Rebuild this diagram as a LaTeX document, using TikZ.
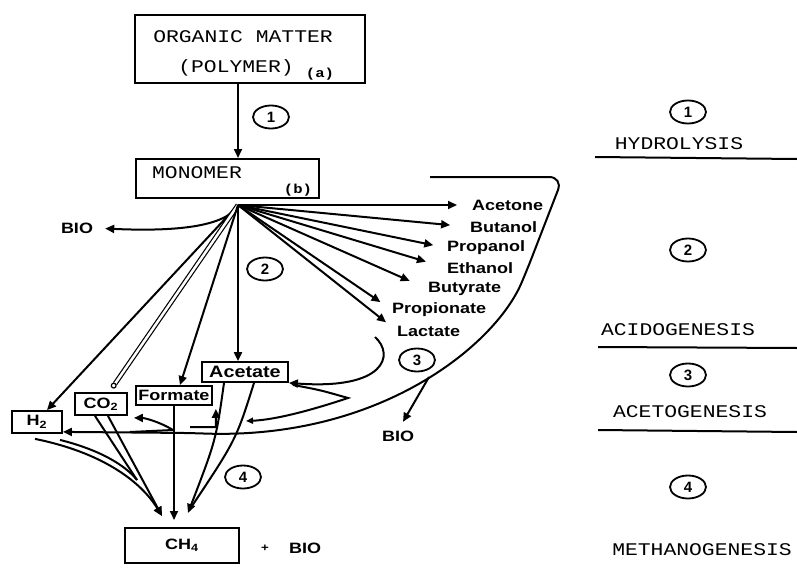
\documentclass[tikz,border=0pt]{standalone}
\usepackage{fontspec}
\setmainfont{Liberation Sans}
\newfontfamily\typew[FakeStretch=1.2]{Liberation Mono}
\newfontfamily\labfont[FakeStretch=1.2]{Liberation Sans}
\usetikzlibrary{arrows.meta, shapes.geometric}

\begin{document}
\begin{tikzpicture}[x=1pt, y=-1pt,
    box/.style={rectangle, draw, line width=2pt, inner sep=0pt},
    chem/.style={rectangle, draw, line width=1.8pt, inner sep=1.5pt, font=\labfont\bfseries\fontsize{15}{16}\selectfont},
    lab/.style={inner sep=0pt, font=\labfont\bfseries\fontsize{15}{16}\selectfont},
    stage/.style={inner sep=0pt, font=\typew\fontsize{17.8}{20}\selectfont},
    tag/.style={inner sep=0pt, font=\typew\bfseries\fontsize{13}{13}\selectfont},
    num/.style={ellipse, draw, line width=1.8pt, minimum width=36pt, minimum height=23pt, inner sep=0pt, font=\bfseries\fontsize{15}{15}\selectfont},
    ln/.style={line width=2pt},
    arr/.style={line width=2pt, -{Triangle[length=9pt, width=8pt]}},
    dbl/.style={line width=1.2pt, double, double distance=2.5pt, -{Circle[open, length=6pt]}}
]
\useasboundingbox (0,0) rectangle (797,567);

% polymer and monomer
\node[box, minimum width=230pt, minimum height=68pt] (organic) at (250,49) {};
\node[stage] (organictxt) at (243,37) {ORGANIC MATTER};
\node[stage] (polymertxt) at (236,68) {(POLYMER)};
\node[tag] (atag) at (320,74) {(a)};
\node[box, minimum width=183pt, minimum height=39pt] (monomer) at (227.5,178.5) {};
\node[stage] (monomertxt) at (197,173) {MONOMER};
\node[tag] (btag) at (298,190) {(b)};
\coordinate (hub) at (238,205);
\draw[arr] (hub |- organic.south) -- (hub |- monomer.north);

% step numbers
\node[num] (s1) at (271,117) {1};
\node[num] (s2) at (265,269) {2};
\node[num] (s3) at (417,360) {3};
\node[num] (s4) at (243,477) {4};

% stages on the right
\node[num] (r1) at (688,112) {1};
\node[stage] (hydro) at (679,144) {HYDROLYSIS};
\draw[ln] (595,157) -- (797,159);
\node[num] (r2) at (688,250) {2};
\node[stage] (acido) at (678,330) {ACIDOGENESIS};
\draw[ln] (598,347) -- (797,348);
\node[num] (r3) at (688,375) {3};
\node[stage] (aceto) at (690,412) {ACETOGENESIS};
\draw[ln] (598,430) -- (797,432);
\node[num] (r4) at (688,487) {4};
\node[stage] (methano) at (702,550) {METHANOGENESIS};

% acidogenesis products
\node[lab, anchor=west] (acetone) at (472,205) {Acetone};
\node[lab, anchor=west] (butanol) at (470,227) {Butanol};
\node[lab, anchor=west] (propanol) at (447,248) {Propanol};
\node[lab, anchor=west] (ethanol) at (447,268) {Ethanol};
\node[lab, anchor=west] (butyrate) at (428,289) {Butyrate};
\node[lab, anchor=west] (propionate) at (392,310) {Propionate};
\node[lab, anchor=west] (lactate) at (397,331) {Lactate};
\foreach \n/\s in {acetone/15, butanol/20, propanol/14, ethanol/22, butyrate/20, propionate/14, lactate/14}
    \draw[arr, shorten >=\s pt] (hub) -- (\n.west);

\node[lab] (bioL) at (77,228) {BIO};
\draw[arr, shorten >=12pt] (hub) .. controls (225,230) and (160,231) .. (bioL.east);

\node[chem, minimum width=50pt, minimum height=22pt] (h2) at (37,422) {H\textsubscript{2}};
\node[chem, minimum width=52pt, minimum height=22pt] (co2) at (101,404) {CO\textsubscript{2}};
\node[chem, minimum width=76pt, minimum height=19pt] (formate) at (174,395.5) {Formate};
\node[chem, minimum width=86pt, minimum height=20pt, font=\labfont\bfseries\fontsize{16.5}{18}\selectfont] (acetate) at (245,372) {Acetate};

\draw[arr] (hub) -- ([xshift=10pt]h2.north);
\draw[dbl] (hub) -- ([xshift=11pt, yshift=4pt]co2.north);
\draw[arr] (hub) -- ([xshift=6pt]formate.north);
\draw[arr] (hub) -- (hub |- acetate.north);

% acetogenesis
\coordinate (lacend) at (375,337);
\draw[arr] (lacend) .. controls (395,355) and (385,390) .. (acetate.south east);
\coordinate (wedgeA) at (348,398);
\coordinate (tipA) at (246,421);
\draw[ln, -{Triangle[open, length=7pt, width=6pt]}] ([xshift=4pt, yshift=-2pt]acetate.south east) .. controls (320,390) .. (wedgeA) .. controls (300,414) and (270,420) .. (tipA);
\coordinate (loopstart) at (430,177);
\draw[arr, rounded corners=14pt] (loopstart) -- (563,177) -- (527,270) .. controls (495,345) and (380,440) .. (190,433) -- ([yshift=2pt]h2.south east);
\node[lab] (bioR) at (398,436) {BIO};
\coordinate (branch) at (429,377);
\draw[arr, shorten >=10pt] (branch) -- (bioR.north);
\coordinate (wedgeB) at (173,430);
\draw[arr] (wedgeB) .. controls (160,422) and (145,418) .. ([xshift=6pt, yshift=-2pt]co2.south east);
\draw[ln] (wedgeB) -- (130,432);
\coordinate (formL) at (190,427);
\draw[arr] (formL) -- (216,427) -- ([xshift=3pt, yshift=-3pt]formate.south east);

% methanogenesis
\node[chem, minimum width=114pt, minimum height=35pt, line width=2pt] (ch4) at (182,545.5) {CH\textsubscript{4}\hspace{22pt}};
\node[lab, font=\labfont\bfseries\fontsize{11}{11}\selectfont] (plus) at (265,548) {+};
\node[lab] (bioC) at (305,548) {BIO};
\coordinate (merge) at (137,480);
\path (formate.south |- ch4.north) coordinate (fch4);
\draw[arr] ([xshift=-21pt]acetate.south) .. controls (216,440) .. ([xshift=6pt, yshift=14pt]ch4.north);
\draw[ln] ([xshift=9pt]acetate.south) .. controls (236,440) .. ([xshift=8pt, yshift=18pt]ch4.north);
\draw[arr] (formate.south) -- ([yshift=7pt]fch4);
\draw[ln] ([xshift=-6pt]co2.south) -- (merge);
\draw[arr] ([xshift=7pt]co2.south) -- ([xshift=-20pt, yshift=11pt]ch4.north);
\draw[arr] ([xshift=-2pt, yshift=-5pt]h2.south) .. controls (100,452) and (140,480) .. ([xshift=-20pt, yshift=11pt]ch4.north);
\draw[ln] ([xshift=23pt, yshift=-6pt]h2.south) .. controls (100,450) and (125,465) .. (merge);
\end{tikzpicture}
\end{document}
